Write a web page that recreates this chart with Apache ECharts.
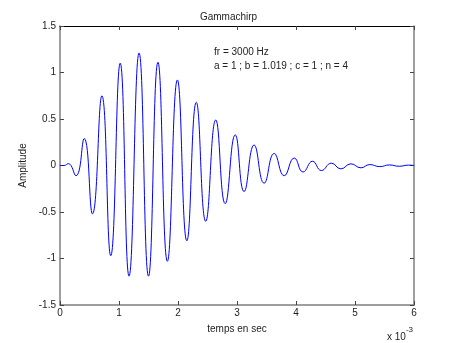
<!DOCTYPE html>
<html>
<head>
<meta charset="utf-8">
<script src="https://cdn.jsdelivr.net/npm/echarts@6/dist/echarts.min.js"></script>
<style>
  html, body { margin: 0; padding: 0; background: #fff; }
  #chart { width: 457px; height: 343px; }
</style>
</head>
<body>
<div id="chart"></div>
<script>
// temps en ms (axe affiché x 10^-3)
var timeMs = [0, 0.07, 0.14, 0.27, 0.41, 0.55, 0.71, 0.86, 1.02, 1.17, 1.34, 1.50, 1.66, 1.82,
    1.99, 2.15, 2.31, 2.47, 2.64, 2.80, 2.97, 3.12, 3.29, 3.46, 3.63, 3.80, 3.97, 4.12,
    4.28, 4.43, 4.60, 4.76, 4.93, 5.10, 5.25, 5.42, 5.58, 5.75, 5.91, 6.0];
var amplitude = [0, 0, 0.02, -0.11, 0.29, -0.52, 0.75, -0.97, 1.10, -1.19, 1.21, -1.19, 1.11, -1.03,
    0.92, -0.81, 0.68, -0.60, 0.49, -0.41, 0.33, -0.28, 0.22, -0.19, 0.13, -0.11, 0.08, -0.07,
    0.046, -0.054, 0.025, -0.036, 0.018, -0.025, 0.01, -0.012, 0.006, -0.008, 0.004, 0];
var xTicks = [0, 1, 2, 3, 4, 5, 6];
var yTicks = [-1.5, -1, -0.5, 0, 0.5, 1, 1.5];

var font = 'Liberation Sans, Arial, sans-serif';
var axisGrey = '#7f7f7f';

var pts = [];
for (var i = 0; i < timeMs.length; i++) {
    pts.push([timeMs[i], amplitude[i]]);
}

var myChart = echarts.init(document.getElementById('chart'));
var option = {
    backgroundColor: '#fff',
    animation: false,
    title: {
        text: 'Gammachirp',
        left: 'center',
        top: 7,
        textStyle: { fontFamily: font, fontSize: 10, fontWeight: 'normal', color: '#222' }
    },
    grid: { left: 60, right: 43, top: 26, bottom: 38 },
    xAxis: [{
        type: 'value',
        min: xTicks[0],
        max: xTicks[xTicks.length - 1],
        interval: 1,
        position: 'bottom',
        name: 'temps en sec',
        nameLocation: 'middle',
        nameGap: 19,
        nameTextStyle: { fontFamily: font, fontSize: 10, color: '#222' },
        axisLine: { onZero: false, lineStyle: { color: axisGrey, width: 1.5 } },
        axisTick: { inside: true, length: 4, lineStyle: { color: '#444' } },
        axisLabel: { fontFamily: font, fontSize: 10, color: '#222', margin: 3 },
        splitLine: { show: false }
    }, {
        type: 'value',
        min: xTicks[0],
        max: xTicks[xTicks.length - 1],
        interval: 1,
        position: 'top',
        axisLine: { onZero: false, lineStyle: { color: '#000', width: 1 } },
        axisTick: { inside: true, length: 4, lineStyle: { color: '#444' } },
        axisLabel: { show: false },
        splitLine: { show: false }
    }],
    yAxis: [{
        type: 'value',
        min: yTicks[0],
        max: yTicks[yTicks.length - 1],
        interval: 0.5,
        position: 'left',
        name: 'Amplitude',
        nameLocation: 'middle',
        nameGap: 26,
        nameRotate: 90,
        nameTextStyle: { fontFamily: font, fontSize: 10, color: '#222' },
        axisLine: { onZero: false, lineStyle: { color: axisGrey, width: 1.5 } },
        axisTick: { inside: true, length: 4, lineStyle: { color: '#444' } },
        axisLabel: { fontFamily: font, fontSize: 10, color: '#222', margin: 4 },
        splitLine: { show: false }
    }, {
        type: 'value',
        min: yTicks[0],
        max: yTicks[yTicks.length - 1],
        interval: 0.5,
        position: 'right',
        axisLine: { onZero: false, lineStyle: { color: axisGrey, width: 1.5 } },
        axisTick: { inside: true, length: 4, lineStyle: { color: '#444' } },
        axisLabel: { show: false },
        splitLine: { show: false }
    }],
    graphic: [{
        type: 'text',
        left: 214,
        top: 45,
        style: {
            text: 'fr = 3000 Hz\na = 1 ; b = 1.019 ; c = 1 ; n = 4',
            font: '10px ' + font,
            fill: '#222',
            lineHeight: 14
        }
    }, {
        type: 'text',
        left: 387,
        top: 326,
        style: {
            text: '{a|x 10}{b|-3}',
            font: '10px ' + font,
            fill: '#222',
            rich: {
                a: { fontFamily: font, fontSize: 10, fill: '#222', padding: [8, 0, 0, 0] },
                b: { fontFamily: font, fontSize: 8, fill: '#222', padding: [0, 0, 6, 0] }
            }
        }
    }],
    series: [{
        type: 'line',
        data: pts,
        smooth: 0.5,
        showSymbol: false,
        lineStyle: { color: '#0000ff', width: 1 },
        itemStyle: { color: '#0000ff' }
    }]
};
myChart.setOption(option, true);
window.onresize = myChart.resize;
</script>
</body>
</html>
